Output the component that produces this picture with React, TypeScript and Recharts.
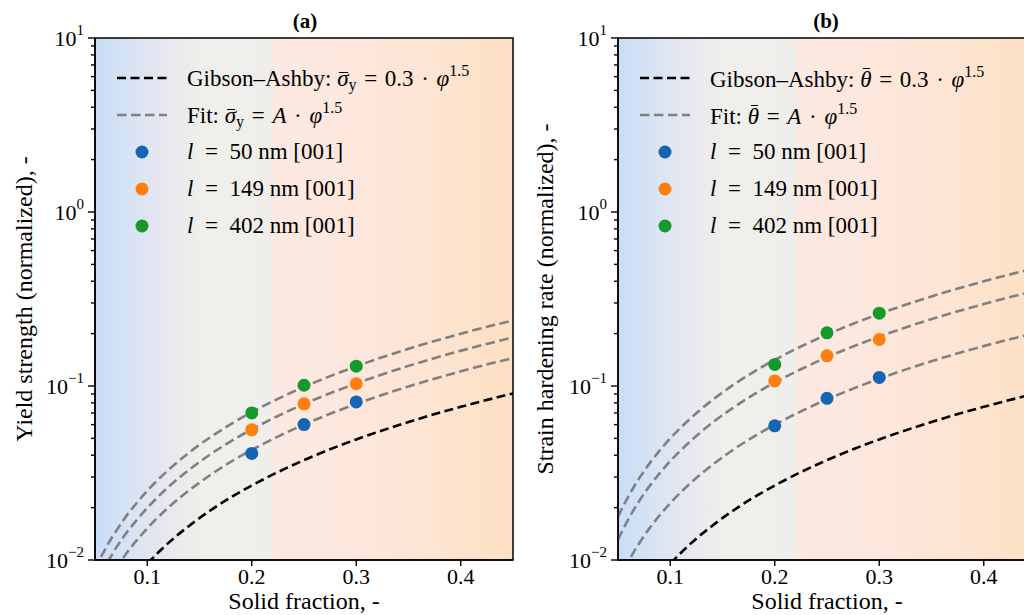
import React from "react";
import {
  ComposedChart,
  Line,
  Scatter,
  XAxis,
  YAxis,
  ReferenceArea,
} from "recharts";

// solid fraction grid used for the curves
const phiGrid = [0.05, 0.055, 0.06, 0.065, 0.07, 0.08, 0.09, 0.1, 0.12, 0.14, 0.16, 0.18, 0.2, 0.225, 0.25, 0.275, 0.3, 0.35, 0.4, 0.45];

// Gibson–Ashby reference (same on both panels)
const gibsonAshby = [0.0034, 0.0039, 0.0044, 0.005, 0.0056, 0.0068, 0.0081, 0.0095, 0.0125, 0.0157, 0.0192, 0.0229, 0.0268, 0.032, 0.0375, 0.0433, 0.0493, 0.0621, 0.0759, 0.0906];

// panel (a) fit curves
const fitA50 = [0.0054, 0.0062, 0.0071, 0.008, 0.0089, 0.0109, 0.013, 0.0152, 0.02, 0.0251, 0.0307, 0.0367, 0.0429, 0.0512, 0.06, 0.0692, 0.0789, 0.0994, 0.1214, 0.1449];
const fitA149 = [0.007, 0.0081, 0.0093, 0.0104, 0.0117, 0.0143, 0.017, 0.0199, 0.0262, 0.033, 0.0403, 0.0481, 0.0563, 0.0672, 0.0788, 0.0908, 0.1035, 0.1305, 0.1594, 0.1902];
const fitA402 = [0.0088, 0.0102, 0.0116, 0.0131, 0.0146, 0.0179, 0.0213, 0.025, 0.0328, 0.0414, 0.0506, 0.0603, 0.0707, 0.0843, 0.0988, 0.1139, 0.1298, 0.1636, 0.1999, 0.2385];

// panel (b) fit curves
const fitB50 = [0.0075, 0.0086, 0.0098, 0.0111, 0.0124, 0.0152, 0.0181, 0.0212, 0.0279, 0.0351, 0.0429, 0.0512, 0.0599, 0.0715, 0.0838, 0.0966, 0.1101, 0.1388, 0.1695, 0.2023];
const fitB149 = [0.0131, 0.0151, 0.0172, 0.0194, 0.0217, 0.0265, 0.0316, 0.037, 0.0486, 0.0613, 0.0749, 0.0894, 0.1046, 0.1248, 0.1463, 0.1687, 0.1922, 0.2423, 0.296, 0.3532];
const fitB402 = [0.0177, 0.0204, 0.0232, 0.0262, 0.0293, 0.0358, 0.0427, 0.05, 0.0657, 0.0828, 0.1011, 0.1207, 0.1413, 0.1686, 0.1975, 0.2278, 0.2596, 0.3272, 0.3997, 0.477];

// measured points
const phiPoints = [0.2, 0.25, 0.3];
const yield50 = [0.041, 0.06, 0.081];
const yield149 = [0.056, 0.079, 0.103];
const yield402 = [0.07, 0.101, 0.13];
const harden50 = [0.059, 0.085, 0.112];
const harden149 = [0.107, 0.149, 0.185];
const harden402 = [0.133, 0.202, 0.262];

const xTicks = [0.1, 0.2, 0.3, 0.4];
const yTicks = [
  0.01, 0.02, 0.03, 0.04, 0.05, 0.06, 0.07, 0.08, 0.09,
  0.1, 0.2, 0.3, 0.4, 0.5, 0.6, 0.7, 0.8, 0.9,
  1, 2, 3, 4, 5, 6, 7, 8, 9, 10,
];
const majorLabels: Record<string, string> = { "0.01": "−2", "0.1": "−1", "1": "0", "10": "1" };

const BLUE = "#1565b5";
const ORANGE = "#ff7f0e";
const GREEN = "#15992a";
const SERIF = "'Liberation Serif', 'DejaVu Serif', 'Times New Roman', Times, serif";

const toRows = (xs: number[], ys: number[]) => xs.map((x, i) => ({ x, y: ys[i] }));

const YTick = (props: any) => {
  const { x, y, payload } = props;
  const exp = majorLabels[String(payload.value)];
  const len = exp ? 7 : 4;
  return (
    <g>
      <line x1={x - len} x2={x} y1={y} y2={y} stroke="#000" strokeWidth={1.4} />
      {exp && (
        <text x={x - 11} y={y + 8} textAnchor="end" style={{ fontFamily: SERIF }} fontSize={22} fill="#000">
          10
          <tspan dy={-11} fontSize={15}>{exp}</tspan>
        </text>
      )}
    </g>
  );
};

const XTick = (props: any) => {
  const { x, y, payload } = props;
  return (
    <g>
      <line x1={x} x2={x} y1={y} y2={y + 6} stroke="#000" strokeWidth={1.4} />
      <text x={x} y={y + 24} textAnchor="middle" style={{ fontFamily: SERIF }} fontSize={22} fill="#000">
        {payload.value}
      </text>
    </g>
  );
};

const dot = (color: string) => (p: any) => <circle cx={p.cx} cy={p.cy} r={6.5} fill={color} />;

function Panel({ fits, pts }: { fits: number[][]; pts: number[][] }) {
  const colors = [BLUE, ORANGE, GREEN];
  return (
    <ComposedChart width={520} height={615} margin={{ top: 38, right: 7, left: 0, bottom: 0 }}>
      <XAxis
        type="number"
        dataKey="x"
        domain={[0.05, 0.45]}
        allowDataOverflow
        ticks={xTicks}
        interval={0}
        height={55}
        tickSize={0}
        tickMargin={0}
        tickLine={false}
        axisLine={{ stroke: "#000", strokeWidth: 1.5 }}
        tick={<XTick />}
      />
      <YAxis
        type="number"
        dataKey="y"
        scale="log"
        domain={[0.01, 10]}
        allowDataOverflow
        ticks={yTicks}
        interval={0}
        width={95}
        tickSize={0}
        tickMargin={0}
        tickLine={false}
        axisLine={{ stroke: "#000", strokeWidth: 1.5 }}
        tick={<YTick />}
      />
      <ReferenceArea x1={0.05} x2={0.45} y1={0.01} y2={10} fill="url(#bgGrad)" fillOpacity={1} stroke="#000" strokeWidth={1.5} />
      <Line
        data={toRows(phiGrid, gibsonAshby)}
        dataKey="y"
        type="monotone"
        stroke="#000"
        strokeWidth={2.6}
        strokeDasharray="9 4.5"
        dot={false}
        isAnimationActive={false}
      />
      {fits.map((f, i) => (
        <Line
          key={"fit" + i}
          data={toRows(phiGrid, f)}
          dataKey="y"
          type="monotone"
          stroke="#808080"
          strokeWidth={2.6}
          strokeDasharray="9.5 4.5"
          dot={false}
          isAnimationActive={false}
        />
      ))}
      {pts.map((p, i) => (
        <Scatter
          key={"pts" + i}
          data={toRows(phiPoints, p)}
          dataKey="y"
          fill={colors[i]}
          shape={dot(colors[i])}
          isAnimationActive={false}
        />
      ))}
    </ComposedChart>
  );
}

const EQ = "\u2004=\u2004";
const DOT = "\u2004·\u2004";
const EQ_WIDE = "\u2002=\u2002";

function LegendBox({ left, sym }: { left: number; sym: "sigma" | "theta" }) {
  const isSigma = sym === "sigma";
  const bar = (
    <span style={{ position: "relative", fontStyle: "italic" }}>
      {isSigma ? "σ" : "θ"}
      <span
        style={{
          position: "absolute",
          left: isSigma ? 2 : 3,
          right: isSigma ? 1 : 1,
          top: isSigma ? 6 : 1,
          borderTop: "1.4px solid #000",
        }}
      />
    </span>
  );
  const sub = isSigma ? <sub style={{ fontSize: 16, verticalAlign: -4 }}>y</sub> : null;
  const phi = (
    <>
      <i>φ</i>
      <sup style={{ fontSize: 16, verticalAlign: 10 }}>1.5</sup>
    </>
  );
  const rows: { key: string; icon: React.ReactNode; text: React.ReactNode }[] = [
    {
      key: "ga",
      icon: <line x1={0} x2={50} y1={10} y2={10} stroke="#000" strokeWidth={2.6} strokeDasharray="9 4.5" />,
      text: (
        <>
          Gibson–Ashby:&nbsp;{bar}
          {sub}
          {EQ}0.3{DOT}
          {phi}
        </>
      ),
    },
    {
      key: "fit",
      icon: <line x1={0} x2={50} y1={10} y2={10} stroke="#808080" strokeWidth={2.6} strokeDasharray="9.5 4.5" />,
      text: (
        <>
          Fit:&nbsp;{bar}
          {sub}
          {EQ}
          <i>A</i>
          {DOT}
          {phi}
        </>
      ),
    },
    { key: "l50", icon: <circle cx={25} cy={10} r={6.5} fill={BLUE} />, text: <><i>l</i>{EQ_WIDE}50 nm [001]</> },
    { key: "l149", icon: <circle cx={25} cy={10} r={6.5} fill={ORANGE} />, text: <><i>l</i>{EQ_WIDE}149 nm [001]</> },
    { key: "l402", icon: <circle cx={25} cy={10} r={6.5} fill={GREEN} />, text: <><i>l</i>{EQ_WIDE}402 nm [001]</> },
  ];
  return (
    <div style={{ position: "absolute", left, top: 59, fontFamily: SERIF, fontSize: 23, color: "#000" }}>
      {rows.map((r) => (
        <div key={r.key} style={{ display: "flex", alignItems: "center", height: 37, whiteSpace: "nowrap" }}>
          <svg width={50} height={20} style={{ marginRight: 20, overflow: "visible" }}>
            {r.icon}
          </svg>
          <span>{r.text}</span>
        </div>
      ))}
    </div>
  );
}

export default function App() {
  return (
    <div style={{ position: "absolute", left: 0, top: 0, width: 1024, height: 615, overflow: "hidden", background: "#fff" }}>
      <svg width={0} height={0} style={{ position: "absolute" }}>
        <defs>
          <linearGradient id="bgGrad" x1="0" y1="0" x2="1" y2="0">
            <stop offset="0" stopColor="#c9ddf7" />
            <stop offset="0.06" stopColor="#d3e2f5" />
            <stop offset="0.14" stopColor="#e3e6f1" />
            <stop offset="0.21" stopColor="#ecebed" />
            <stop offset="0.26" stopColor="#efefeb" />
            <stop offset="0.42" stopColor="#f0eeea" />
            <stop offset="0.43" stopColor="#fce9e1" />
            <stop offset="0.62" stopColor="#fde7dd" />
            <stop offset="0.8" stopColor="#fde5d3" />
            <stop offset="1" stopColor="#fde0c3" />
          </linearGradient>
        </defs>
      </svg>

      <div style={{ position: "absolute", left: 0, top: 0 }}>
        <Panel fits={[fitA50, fitA149, fitA402]} pts={[yield50, yield149, yield402]} />
      </div>
      <div style={{ position: "absolute", left: 523, top: 0 }}>
        <Panel fits={[fitB50, fitB149, fitB402]} pts={[harden50, harden149, harden402]} />
      </div>

      <LegendBox left={117} sym="sigma" />
      <LegendBox left={640} sym="theta" />

      <svg width={1024} height={615} style={{ position: "absolute", left: 0, top: 0, pointerEvents: "none" }}>
        <g style={{ fontFamily: SERIF }} fill="#000">
          <text x={305} y={28} textAnchor="middle" fontSize={21} fontWeight="bold">(a)</text>
          <text x={826} y={28} textAnchor="middle" fontSize={21} fontWeight="bold">(b)</text>
          <text x={304} y={609} textAnchor="middle" fontSize={24}>Solid fraction, -</text>
          <text x={827} y={609} textAnchor="middle" fontSize={24}>Solid fraction, -</text>
          <text transform="translate(32,299) rotate(-90)" textAnchor="middle" fontSize={24}>
            Yield strength (normalized), -
          </text>
          <text transform="translate(553,299) rotate(-90)" textAnchor="middle" fontSize={24}>
            Strain hardening rate (normalized), -
          </text>
        </g>
      </svg>
    </div>
  );
}
